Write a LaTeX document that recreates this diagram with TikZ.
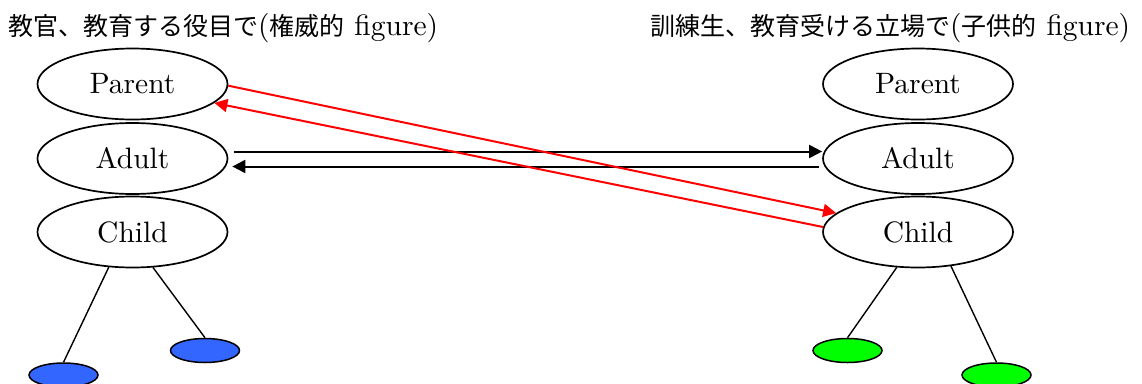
\documentclass[tikz,border=0pt]{standalone}
\usepackage{fontspec}
\setmainfont{lmroman10-regular}[Extension=.otf]
\newfontfamily\cjk{Noto Sans CJK JP}
\usetikzlibrary{arrows.meta,shapes.geometric}
\definecolor{leafblue}{HTML}{3366FF}
\definecolor{leafgreen}{HTML}{00FF00}
\newcommand\jtext[1]{{\cjk\fontsize{25}{30}\selectfont #1}}
\begin{document}
\begin{tikzpicture}[x=1pt,y=-1pt,
  role/.style={ellipse,draw,line width=1.7pt,minimum width=190pt,minimum height=71pt,inner sep=0pt,font=\fontsize{29.5}{32}\selectfont},
  leaf/.style={ellipse,draw,line width=1.5pt,minimum width=69pt,minimum height=24pt,inner sep=0pt},
  blueleaf/.style={leaf,fill=leafblue},
  greenleaf/.style={leaf,fill=leafgreen},
  link/.style={line width=1.4pt},
  flow/.style={line width=2pt,-{Triangle[length=13pt,width=13pt]}},
  redflow/.style={flow,draw=red,fill=red},
  title/.style={anchor=base west,inner sep=0pt,font=\fontsize{29.5}{32}\selectfont}]
\clip (0,0) rectangle (1142,383);
% titles
\node[title] (lt) at (8,35) {\jtext{教官、教育する役目で}(\jtext{権威的} figure)};
\node[title] (rt) at (650,35) {\jtext{訓練生、教育受ける立場で}(\jtext{子供的} figure)};
% left column
\node[role] (lp) at (132.5,84) {Parent};
\node[role] (la) at (132.5,158.5) {Adult};
\node[role] (lc) at (132.5,232) {Child};
% right column
\node[role] (rp) at (918,84) {Parent};
\node[role] (ra) at (918,158.5) {Adult};
\node[role] (rc) at (918,232) {Child};
% leaves
\node[blueleaf] (b1) at (63.5,375) {};
\node[blueleaf] (b2) at (205,350.5) {};
\node[greenleaf] (g1) at (847.5,350.5) {};
\node[greenleaf] (g2) at (996.5,375) {};
\draw[link] (lc.-124) -- (b1.north);
\draw[link] (lc.-60) -- (b2.north);
\draw[link] (rc.-121) -- (g1.north);
\draw[link] (rc.-46) -- (g2.north);
% adult-adult arrows
\draw[flow] ([shift={(6pt,7pt)}]la.east) -- ([shift={(0pt,7pt)}]ra.west);
\draw[flow] ([shift={(-3pt,-8pt)}]ra.west) -- ([shift={(4pt,-8pt)}]la.east);
% parent-child arrows
\draw[redflow] (lp.-1) -- (rc.167);
\draw[redflow] (rc.177) -- (lp.-13);
\end{tikzpicture}
\end{document}
